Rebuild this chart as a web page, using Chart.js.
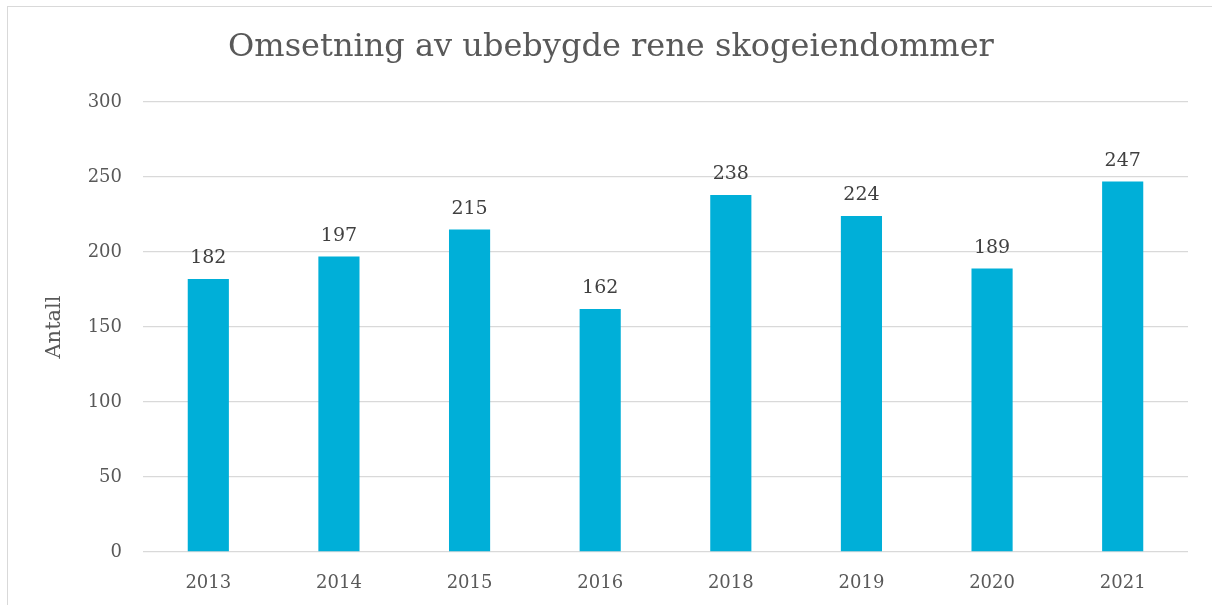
<!DOCTYPE html>
<html>
<head>
<meta charset="utf-8">
<script src="https://cdn.jsdelivr.net/npm/chart.js@4"></script>
<style>
  html, body { margin: 0; padding: 0; background: #fff; }
  #wrap { width: 1212px; height: 605px; }
</style>
</head>
<body>
<div id="wrap"><canvas id="chart" width="1212" height="605"></canvas></div>
<script>
// -------------------- DATA --------------------
const years = ['2013', '2014', '2015', '2016', '2018', '2019', '2020', '2021'];
const antall = [182, 197, 215, 162, 238, 224, 189, 247];
const yTicks = [0, 50, 100, 150, 200, 250, 300];
const chartTitle = 'Omsetning av ubebygde rene skogeiendommer';

const FONT = "'DejaVu Serif', Georgia, serif";

// value labels above each bar
const barLabels = {
    id: 'barLabels',
    afterDatasetsDraw(chart) {
        const ctx = chart.ctx;
        const meta = chart.getDatasetMeta(0);
        ctx.save();
        ctx.font = '19px ' + FONT;
        ctx.fillStyle = '#404040';
        ctx.textAlign = 'center';
        ctx.textBaseline = 'bottom';
        meta.data.forEach((bar, i) => {
            ctx.fillText(antall[i], bar.x, bar.y - 11);
        });
        ctx.restore();
    }
};

// frame + title, centred on the whole frame (like Excel does)
const frame = {
    id: 'frame',
    beforeDraw(chart) {
        const ctx = chart.ctx;
        ctx.save();
        ctx.strokeStyle = '#d9d9d9';
        ctx.lineWidth = 1;
        ctx.strokeRect(7.5, 6.5, 1220, 620);
        ctx.font = '32px ' + FONT;
        ctx.fillStyle = '#595959';
        ctx.textAlign = 'center';
        ctx.textBaseline = 'middle';
        ctx.fillText(chartTitle, 611, 48);
        ctx.restore();
    }
};

new Chart(document.getElementById('chart'), {
    type: 'bar',
    data: {
        labels: years,
        datasets: [{
            label: 'Antall',
            data: antall,
            backgroundColor: '#00AFD8',
            borderWidth: 0,
            barPercentage: 0.63,
            categoryPercentage: 0.5
        }]
    },
    options: {
        responsive: false,
        animation: false,
        layout: { padding: { left: 0, right: 24, top: 102, bottom: 0 } },
        plugins: {
            legend: { display: false },
            tooltip: { enabled: false },
            title: { display: false }
        },
        scales: {
            x: {
                grid: { display: false, drawTicks: false },
                border: { display: false },
                ticks: { color: '#595959', font: { family: FONT, size: 18 }, padding: 21 },
                afterFit(scale) { scale.height = 53; }
            },
            y: {
                min: 0,
                max: 300,
                afterBuildTicks(scale) { scale.ticks = yTicks.map(v => ({ value: v })); },
                grid: { color: '#d9d9d9', lineWidth: 1.3, drawTicks: false },
                border: { display: false },
                ticks: { color: '#595959', font: { family: FONT, size: 18 }, padding: 21 },
                title: {
                    display: true,
                    text: 'Antall',
                    color: '#595959',
                    font: { family: FONT, size: 21, weight: 'normal', lineHeight: 1.2 },
                    padding: { top: 42, bottom: 0 }
                },
                afterFit(scale) { scale.width = 143; }
            }
        }
    },
    plugins: [frame, barLabels]
});
</script>
</body>
</html>
